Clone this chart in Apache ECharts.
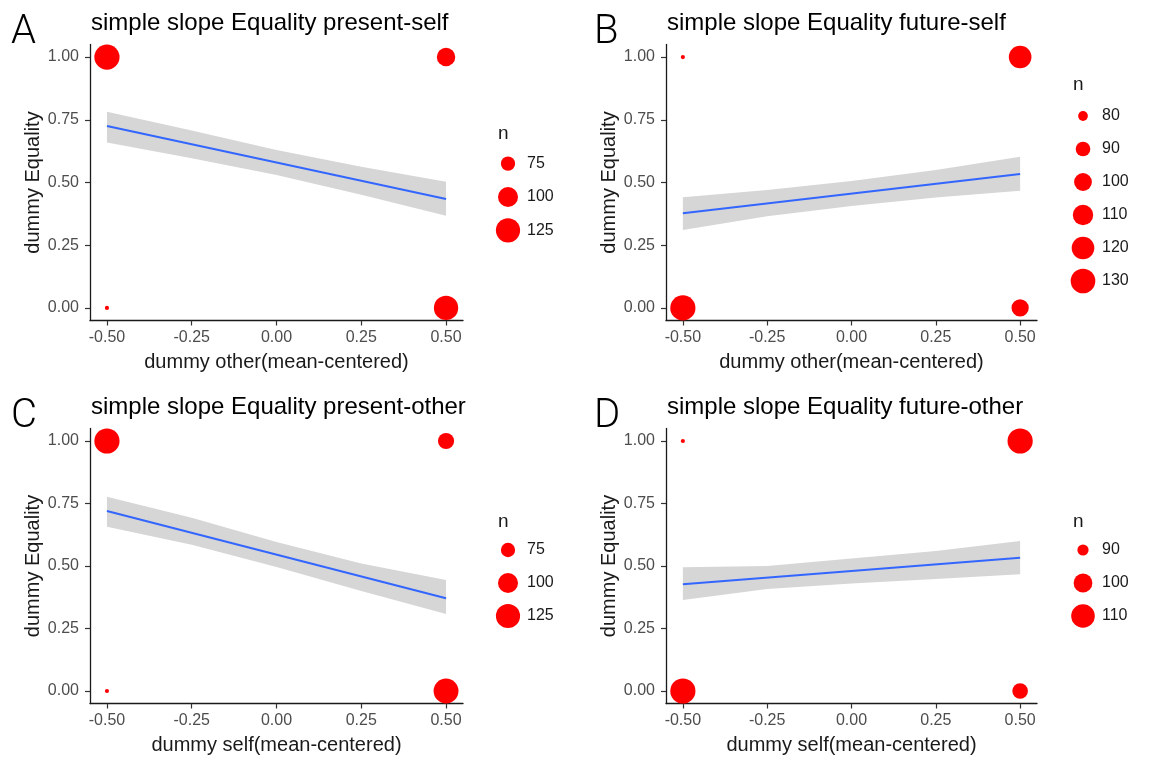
<!DOCTYPE html>
<html><head><meta charset="utf-8">
<script src="https://cdn.jsdelivr.net/npm/echarts@6/dist/echarts.min.js"></script>
<style>html,body{margin:0;padding:0;background:#fff}#c{width:1155px;height:760px}</style>
</head><body><div id="c"></div>
<script>
// ---- data ----
const panelLetters = ['A', 'B', 'C', 'D'];
const panelTitles = ['simple slope Equality present-self', 'simple slope Equality future-self',
  'simple slope Equality present-other', 'simple slope Equality future-other'];
const xAxisNames = ['dummy other(mean-centered)', 'dummy other(mean-centered)',
  'dummy self(mean-centered)', 'dummy self(mean-centered)'];
const yAxisName = 'dummy Equality';
const xTicks = [-0.5, -0.25, 0, 0.25, 0.5];
const yTicks = [0, 0.25, 0.5, 0.75, 1];

// count points (x, y, n)
const pointX = [-0.5, -0.5, 0.5, 0.5];
const pointY = [1, 0, 1, 0];
const countA = [132, 58, 92, 126];
const countB = [76, 133, 120, 98];
const countC = [132, 58, 82, 130];
const countD = [87, 114, 114, 95];

// fitted line endpoints
const fitX = [-0.5, 0.5];
const fitA = [0.725, 0.434];
const fitB = [0.377, 0.534];
const fitC = [0.720, 0.371];
const fitD = [0.427, 0.533];

// confidence band
const bandX = [-0.5, -0.25, 0, 0.25, 0.5];
const lowA = [0.659, 0.597, 0.530, 0.451, 0.367];
const highA = [0.782, 0.707, 0.630, 0.563, 0.503];
const lowB = [0.311, 0.365, 0.406, 0.440, 0.467];
const highB = [0.441, 0.470, 0.506, 0.550, 0.603];
const lowC = [0.657, 0.585, 0.496, 0.400, 0.308];
const highC = [0.777, 0.693, 0.596, 0.510, 0.444];
const lowD = [0.364, 0.408, 0.430, 0.448, 0.467];
const highD = [0.495, 0.500, 0.530, 0.560, 0.600];

// size legends
const legendA = [75, 100, 125];
const legendB = [80, 90, 100, 110, 120, 130];
const legendC = [75, 100, 125];
const legendD = [90, 100, 110];

// ---- layout ----
const gridBoxes = [
  {left: 90, top: 44.5, width: 373, height: 276},
  {left: 666, top: 44.5, width: 371, height: 276},
  {left: 90, top: 428.5, width: 373, height: 275},
  {left: 666, top: 428.5, width: 371, height: 275}
];
const legendBoxes = [
  {left: 498, top: 147, width: 20, height: 100, titleTop: 119},
  {left: 1073, top: 99.5, width: 20, height: 198, titleTop: 70},
  {left: 498, top: 533.5, width: 20, height: 99, titleTop: 507},
  {left: 1073, top: 533.5, width: 20, height: 99, titleTop: 507}
];
const letterPos = [{left: 6, top: 8}, {left: 589, top: 8}, {left: 6, top: 392}, {left: 589, top: 392}];

const counts = [countA, countB, countC, countD];
const fits = [fitA, fitB, fitC, fitD];
const lows = [lowA, lowB, lowC, lowD];
const highs = [highA, highB, highC, highD];
const legends = [legendA, legendB, legendC, legendD];

const FONT = 'Liberation Sans, Arial, sans-serif';
function sizePx(n, lo, hi) { return 4.2 * (1 + 5 * Math.sqrt(Math.max(0, (n - lo) / (hi - lo)))); }

const option = {
  backgroundColor: '#ffffff', animation: false,
  title: [], grid: [], xAxis: [], yAxis: [], series: []
};

for (let p = 0; p < 4; p++) {
  const g = gridBoxes[p];
  const lo = Math.min(...counts[p]), hi = Math.max(...counts[p]);
  option.grid.push(Object.assign({containLabel: false}, g));
  const gi = option.grid.length - 1;
  option.xAxis.push({
    type: 'value', gridIndex: gi, min: -0.55, max: 0.55,
    name: xAxisNames[p], nameLocation: 'middle', nameGap: 32,
    nameTextStyle: {fontFamily: FONT, fontSize: 20, color: '#1a1a1a'},
    axisLine: {show: true, onZero: false, lineStyle: {color: '#1a1a1a', width: 1.3}},
    axisTick: {show: true, length: 5, customValues: xTicks, lineStyle: {color: '#333', width: 1.2}},
    axisLabel: {customValues: xTicks, margin: 9, fontFamily: FONT, fontSize: 16, color: '#4d4d4d',
      formatter: v => v.toFixed(2)},
    splitLine: {show: false}
  });
  option.yAxis.push({
    type: 'value', gridIndex: gi, min: -0.05, max: 1.05,
    name: yAxisName, nameLocation: 'middle', nameGap: 45,
    nameTextStyle: {fontFamily: FONT, fontSize: 20, color: '#1a1a1a'},
    axisLine: {show: true, onZero: false, lineStyle: {color: '#1a1a1a', width: 1.3}},
    axisTick: {show: true, length: 5, customValues: yTicks, lineStyle: {color: '#333', width: 1.2}},
    axisLabel: {customValues: yTicks, margin: 11, fontFamily: FONT, fontSize: 16, color: '#4d4d4d',
      formatter: v => v.toFixed(2)},
    splitLine: {show: false}
  });
  const ai = option.xAxis.length - 1;
  // points
  option.series.push({
    type: 'scatter', xAxisIndex: ai, yAxisIndex: ai, z: 2,
    data: pointX.map((x, i) => [x, pointY[i], counts[p][i]]),
    symbolSize: d => sizePx(d[2], lo, hi),
    itemStyle: {color: '#ff0000', opacity: 1}
  });
  // confidence band polygon
  option.series.push({
    type: 'custom', xAxisIndex: ai, yAxisIndex: ai, z: 3,
    data: bandX.map((x, i) => [x, lows[p][i], highs[p][i]]),
    encode: {x: 0, y: [1, 2]},
    renderItem: (params, api) => {
      if (params.dataIndex !== 0) return null;
      const pts = [];
      for (let i = 0; i < bandX.length; i++) pts.push(api.coord([bandX[i], highs[p][i]]));
      for (let i = bandX.length - 1; i >= 0; i--) pts.push(api.coord([bandX[i], lows[p][i]]));
      return {type: 'polygon', shape: {points: pts}, style: {fill: '#d6d6d6'}};
    }
  });
  // fit line
  option.series.push({
    type: 'line', xAxisIndex: ai, yAxisIndex: ai, z: 4,
    data: fitX.map((x, i) => [x, fits[p][i]]), showSymbol: false, symbol: 'none',
    lineStyle: {color: '#3366ff', width: 2}
  });
  // titles
  option.title.push({text: panelTitles[p], left: g.left - 4, top: g.top - 38,
    textStyle: {fontFamily: FONT, fontSize: 24, fontWeight: 'normal', color: '#000'}});
  option.title.push({text: panelLetters[p], left: letterPos[p].left, top: letterPos[p].top,
    textStyle: {fontFamily: 'Roboto, DejaVu Sans, sans-serif', fontSize: 40, fontWeight: 300, color: '#000'}});
  // legend
  const lb = legendBoxes[p];
  option.title.push({text: 'n', left: lb.left - 5, top: lb.titleTop,
    textStyle: {fontFamily: FONT, fontSize: 19, fontWeight: 'normal', color: '#1a1a1a'}});
  option.grid.push({left: lb.left, top: lb.top, width: lb.width, height: lb.height, containLabel: false});
  const lgi = option.grid.length - 1;
  option.xAxis.push({type: 'value', gridIndex: lgi, min: -1, max: 1, show: false});
  option.yAxis.push({
    type: 'category', gridIndex: lgi, data: legends[p].map(String), inverse: true, position: 'right',
    axisLine: {show: false}, axisTick: {show: false}, splitLine: {show: false},
    axisLabel: {margin: 9, fontFamily: FONT, fontSize: 16, color: '#1a1a1a', align: 'left'}
  });
  const lai = option.xAxis.length - 1;
  option.series.push({
    type: 'scatter', xAxisIndex: lai, yAxisIndex: lai,
    data: legends[p].map(v => [0, String(v), v]),
    symbolSize: d => sizePx(d[2], lo, hi),
    itemStyle: {color: '#ff0000', opacity: 1}
  });
}

const chart = echarts.init(document.getElementById('c'), null, {renderer: 'canvas'});
chart.setOption(option);
</script>
</body></html>
